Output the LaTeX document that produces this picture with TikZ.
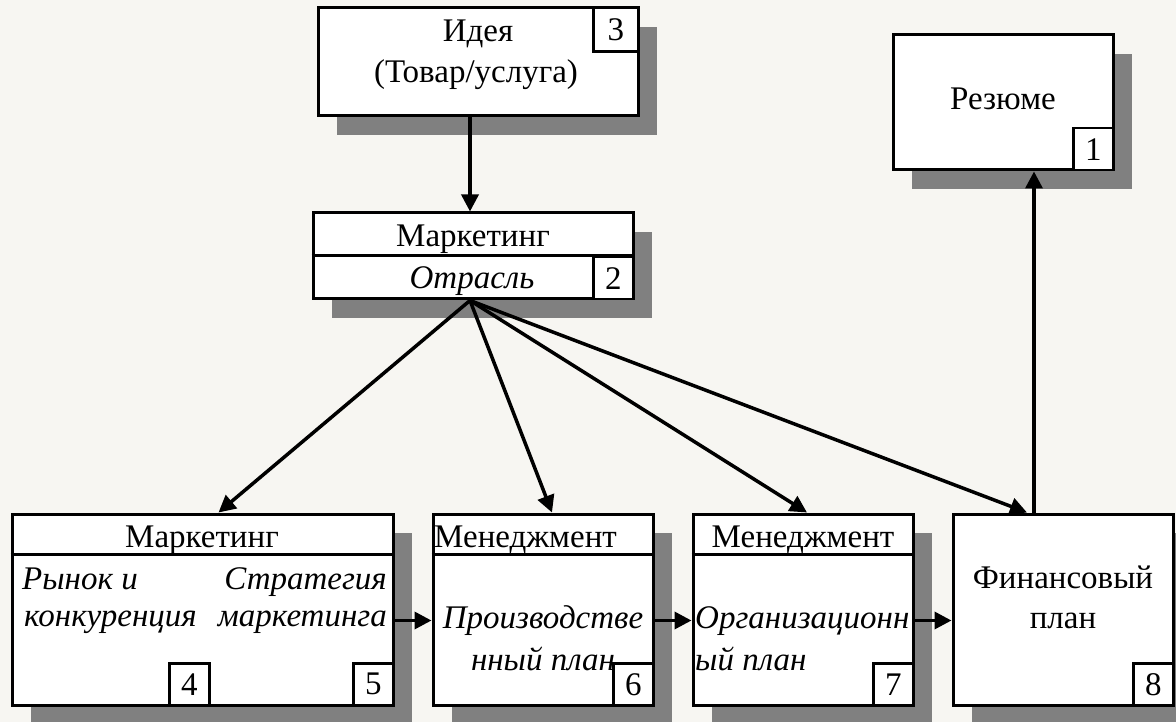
\documentclass[tikz,border=0pt]{standalone}
\usepackage{fontspec}
\setmainfont{Liberation Serif}
\usetikzlibrary{arrows.meta,positioning,shadows}

\definecolor{bgcol}{HTML}{F7F6F2}
\definecolor{shadowcol}{HTML}{808080}
\tikzset{
	block/.style={draw, line width=3pt, fill=white, inner sep=0pt,
		drop shadow={shadow xshift=19pt, shadow yshift=-19pt, fill=shadowcol, opacity=1}},
	numbox/.style={draw, line width=2.5pt, fill=white, inner sep=0pt, minimum width=40pt, minimum height=42pt},
	txt/.style={inner sep=0pt, anchor=base},
	link/.style={line width=3.5pt, -{Triangle[length=17pt,width=17pt]}},
}

\begin{document}
\begin{tikzpicture}[x=1pt, y=-1pt, font=\fontsize{33}{40}\selectfont]
	\fill[bgcol] (0,0) rectangle (1176,722);
	\useasboundingbox (0,0) rectangle (1176,722);
	% blocks
	\node[block, minimum width=320pt, minimum height=108pt] (b3) at (478,62) {};
	\node[block, minimum width=320pt, minimum height=86pt] (b2) at (473,256) {};
	\node[block, minimum width=220pt, minimum height=135pt] (b1) at (1003,102.5) {};
	\node[block, minimum width=381pt, minimum height=191pt] (b45) at (202.5,609.5) {};
	\node[block, minimum width=220pt, minimum height=191pt] (b6) at (543,609.5) {};
	\node[block, minimum width=220pt, minimum height=191pt] (b7) at (803,609.5) {};
	\node[block, minimum width=220pt, minimum height=191pt] (b8) at (1063,609.5) {};
	% header lines
	\draw[line width=2.5pt] ([yshift=-44pt]b2.north west) -- ([yshift=-44pt]b2.north east);
	\foreach \b in {b45,b6,b7}
		\draw[line width=2.5pt] ([yshift=-42pt]\b.north west) -- ([yshift=-42pt]\b.north east);
	% numbers
	\node[numbox, anchor=north east, minimum width=45pt, minimum height=44pt] (n3) at (b3.north east) {3};
	\node[numbox, anchor=south east] (n2) at (b2.south east) {2};
	\node[numbox, anchor=south east] (n1) at (b1.south east) {1};
	\node[numbox, anchor=south east] (n4) at ([xshift=200pt]b45.south west) {4};
	\node[numbox, anchor=south east] (n5) at (b45.south east) {5};
	\node[numbox, anchor=south east] (n6) at (b6.south east) {6};
	\node[numbox, anchor=south east] (n7) at (b7.south east) {7};
	\node[numbox, anchor=south east] (n8) at (b8.south east) {8};
	% texts
	\node[txt] (t3a) at (478,42) {Идея};
	\node[txt] (t3b) at (476,83) {(Товар/услуга)};
	\node[txt] (t2a) at (473,247) {Маркетинг};
	\node[txt, font=\fontsize{33}{40}\selectfont\itshape] (t2b) at (472,288) {Отрасль};
	\node[txt] (t1) at (1003,110) {Резюме};
	\node[txt] (t45) at (202,547) {Маркетинг};
	\begin{scope}[font=\fontsize{33}{40}\selectfont\itshape]
		\node[txt, anchor=base west] (t4a) at (22,589) {Рынок и};
		\node[txt, anchor=base west] (t4b) at (24,626) {конкуренция};
		\node[txt, anchor=base east] (t5a) at (387,589) {Стратегия};
		\node[txt, anchor=base east] (t5b) at (387,626) {маркетинга};
		\node[txt] (t6a) at (543,628) {Производстве};
		\node[txt] (t6b) at (543,670) {нный план};
		\node[txt, anchor=base west] (t7a) at (695,628) {Организационн};
		\node[txt, anchor=base west] (t7b) at (695,670) {ый план};
	\end{scope}
	\node[txt, anchor=base west] (t6) at (434,547) {Менеджмент};
	\node[txt] (t7) at (803,547) {Менеджмент};
	\node[txt] (t8a) at (1063,588) {Финансовый};
	\node[txt] (t8b) at (1063,628) {план};
	% connectors
	\draw[link] ([xshift=-8pt]b3.south) -- ([xshift=-3pt]b2.north);
	\draw[link] ([xshift=-3pt]b2.south) -- ([xshift=16pt]b45.north);
	\draw[link] ([xshift=-3pt]b2.south) -- ([xshift=9pt]b6.north);
	\draw[link] ([xshift=-3pt]b2.south) -- ([xshift=4pt]b7.north);
	\draw[link] ([xshift=-3pt]b2.south) -- ([xshift=-36pt]b8.north);
	\draw[link] ([xshift=-29pt]b8.north) -- ([xshift=31pt]b1.south);
	\draw[link] ([yshift=-11pt]b45.east) -- ([yshift=-11pt]b6.west);
	\draw[link] ([yshift=-11pt]b6.east) -- ([yshift=-11pt]b7.west);
	\draw[link] ([yshift=-11pt]b7.east) -- ([yshift=-11pt]b8.west);
\end{tikzpicture}
\end{document}
